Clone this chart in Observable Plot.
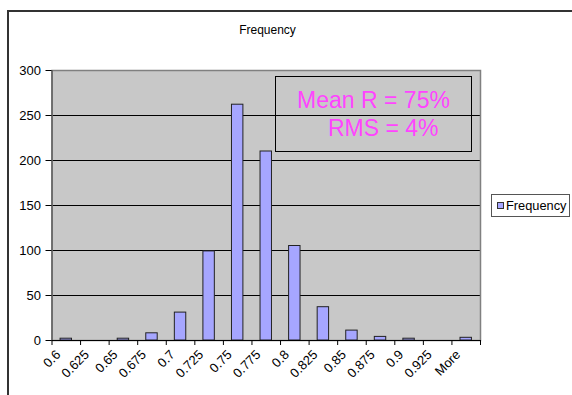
<!DOCTYPE html>
<html><head><meta charset="utf-8">
<script src="https://cdn.jsdelivr.net/npm/d3@7"></script>
<script src="https://cdn.jsdelivr.net/npm/@observablehq/plot@0.6"></script>
<style>
body{margin:0;background:#fff;overflow:hidden;font-family:"Liberation Sans",Arial,sans-serif;}
#wrap{position:relative;width:572px;height:395px;overflow:hidden;}
#wrap svg{position:absolute;left:0;top:0;}
.frame{position:absolute;left:7px;top:10px;width:620px;height:420px;border:2px solid #333;box-sizing:border-box;}
.title{position:absolute;left:167.5px;top:24px;width:200px;text-align:center;font-size:12px;line-height:12px;color:#000;}
.note{position:absolute;left:275px;top:76px;width:197px;height:76px;border:1px solid #000;box-sizing:border-box;z-index:2;}
.noteline{position:absolute;font-size:23px;line-height:23px;color:#ff44ff;white-space:pre;z-index:3;}
.legend{position:absolute;left:491px;top:194px;width:79px;height:23px;border:1px solid #555;box-sizing:border-box;background:#fff;z-index:2;}
.sw{position:absolute;left:5px;top:7px;width:7px;height:7px;border:1px solid #333;box-sizing:border-box;background:#a6a6ff;}
.lt{position:absolute;left:14px;top:4px;font-size:12.8px;line-height:13px;color:#000;white-space:pre;}
</style></head><body>
<div id="wrap"><div class="frame"></div></div>
<script>
const categories = ["0.6","0.625","0.65","0.675","0.7","0.725","0.75","0.775","0.8","0.825","0.85","0.875","0.9","0.925","More"];
const frequency = [2,0,2,8,31,99,262,210,105,37,11,4,2,0,3];
const yTicks = [0,50,100,150,200,250,300];
const chartTitle = "Frequency";
const seriesName = "Frequency";
const annotationLines = ["Mean R = 75%", "RMS = 4%"];

const data = categories.map((c, i) => ({category: c, index: i, value: frequency[i]}));
const font = '"Liberation Sans", Arial, sans-serif';

const chart = Plot.plot({
  width: 572, height: 395,
  marginLeft: 51.5, marginRight: 92, marginTop: 70, marginBottom: 55,
  x: {type: "linear", domain: [0, categories.length], axis: null},
  y: {domain: [0, 300], axis: null},
  style: {background: "transparent", fontFamily: font, fontSize: "13px", color: "#000", overflow: "visible"},
  marks: [
    Plot.frame({fill: "#c8c8c8", stroke: null}),
    Plot.ruleY(yTicks.filter(v => v > 0 && v < 300), {stroke: "#000", strokeWidth: 1}),
    Plot.frame({stroke: "#808080", strokeWidth: 1.5}),
    Plot.rectY(data, {x1: d => d.index + 0.3, x2: d => d.index + 0.7, y: "value", fill: "#a6a6ff", stroke: "#222", strokeWidth: 1}),
    Plot.ruleY([0], {stroke: "#000", strokeWidth: 1.2}),
    Plot.ruleX([0], {stroke: "#555", strokeWidth: 1.2}),
    Plot.axisY({ticks: yTicks, tickSize: 6, tickPadding: 5, fontSize: 13, label: null, tickFormat: d => String(d)}),
    Plot.axisX({ticks: d3.range(categories.length + 1), tickSize: 5, tickFormat: () => "", label: null}),
    Plot.text(categories, {x: (d, i) => i + 0.5, frameAnchor: "bottom", rotate: -45, textAnchor: "end", dx: -5, dy: 15, fontSize: 13, fill: "#000"})
  ]
});
const wrap = document.getElementById("wrap");
wrap.appendChild(chart);

const t = document.createElement("div");
t.className = "title"; t.textContent = chartTitle; wrap.appendChild(t);

const note = document.createElement("div"); note.className = "note"; wrap.appendChild(note);
const l1 = document.createElement("div"); l1.className = "noteline";
l1.style.left = "275px"; l1.style.width = "197px"; l1.style.textAlign = "center"; l1.style.top = "88.5px";
l1.textContent = annotationLines[0]; wrap.appendChild(l1);
const l2 = document.createElement("div"); l2.className = "noteline";
l2.style.left = "328px"; l2.style.top = "116.5px";
l2.textContent = annotationLines[1]; wrap.appendChild(l2);

const lg = document.createElement("div"); lg.className = "legend";
lg.innerHTML = '<div class="sw"></div><div class="lt"></div>';
lg.querySelector(".lt").textContent = seriesName;
wrap.appendChild(lg);
</script>
</body></html>
